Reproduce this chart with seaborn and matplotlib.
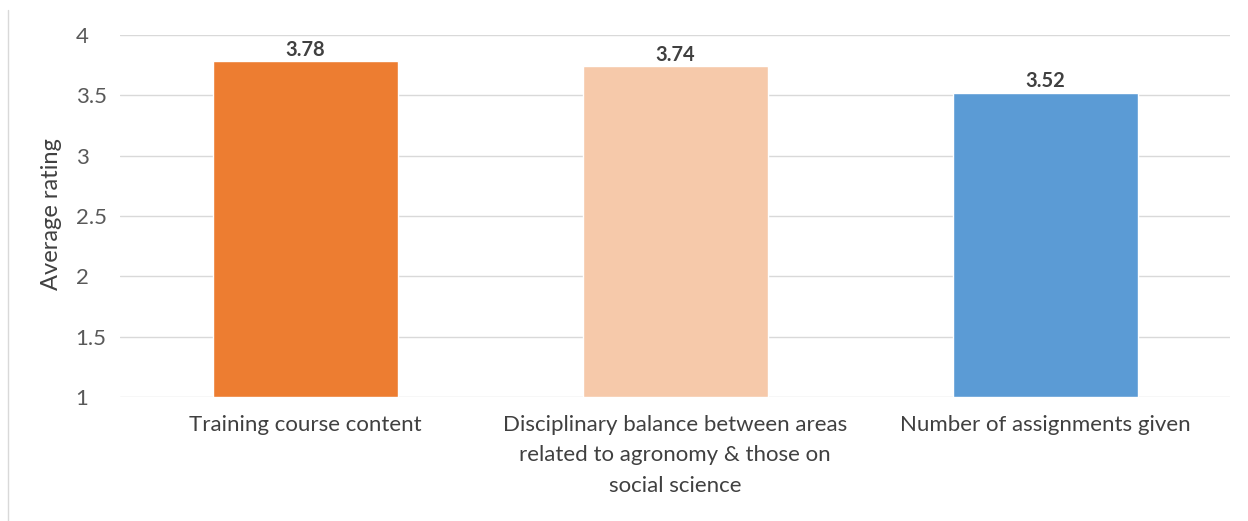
import matplotlib
matplotlib.use("Agg")
import matplotlib.pyplot as plt
import seaborn as sns
import pandas as pd
from matplotlib.lines import Line2D

categories = [
    "Training course content",
    "Disciplinary balance between areas\nrelated to agronomy & those on\nsocial science",
    "Number of assignments given",
]
ratings = [3.78, 3.74, 3.52]
bar_colors = ["#ED7D31", "#F6C9AA", "#5B9BD5"]
y_ticks = [1, 1.5, 2, 2.5, 3, 3.5, 4]
y_tick_labels = ["1", "1.5", "2", "2.5", "3", "3.5", "4"]

sns.set_style("white")
plt.rcParams["font.family"] = ["Lato", "DejaVu Sans"]

df = pd.DataFrame({"category": categories, "rating": ratings})

fig = plt.figure(figsize=(12.48, 5.21), dpi=100)
ax = fig.add_axes([0.0962, 0.238, 0.8894, 0.695])

sns.barplot(data=df, x="category", y="rating", hue="category",
            palette=bar_colors, width=0.5, ax=ax, legend=False,
            saturation=1)

# bars start at the axis floor of 1
for patch, val in zip(ax.patches, ratings):
    patch.set_y(1)
    patch.set_height(val - 1)

ax.set_ylim(1, 4)
ax.set_xlim(-0.5, 2.5)
ax.set_yticks(y_ticks)
ax.set_yticklabels(y_tick_labels, ha="left")
ax.yaxis.grid(True, color="#D9D9D9", linewidth=1)
ax.set_axisbelow(True)
for s in ax.spines.values():
    s.set_visible(False)
ax.tick_params(axis="y", length=0, pad=32, labelsize=16, labelcolor="#595959")
ax.tick_params(axis="x", length=0, pad=13, labelsize=16, labelcolor="#404040")
for lbl in ax.get_xticklabels():
    lbl.set_linespacing(1.65)
ax.set_xlabel("")
ax.set_ylabel("Average rating", fontsize=17, color="#404040")
ax.yaxis.set_label_coords(-0.052, 0.505)

for i, val in enumerate(ratings):
    ax.text(i, val + 0.012, f"{val:.2f}", ha="center", va="bottom",
            fontsize=14.5, fontweight="bold", color="#404040")

fig.add_artist(Line2D([8 / 1248, 8 / 1248], [0, 1 - 10 / 521],
                      transform=fig.transFigure, color="#D9D9D9", linewidth=1))

fig.savefig("out.png", dpi=100)
